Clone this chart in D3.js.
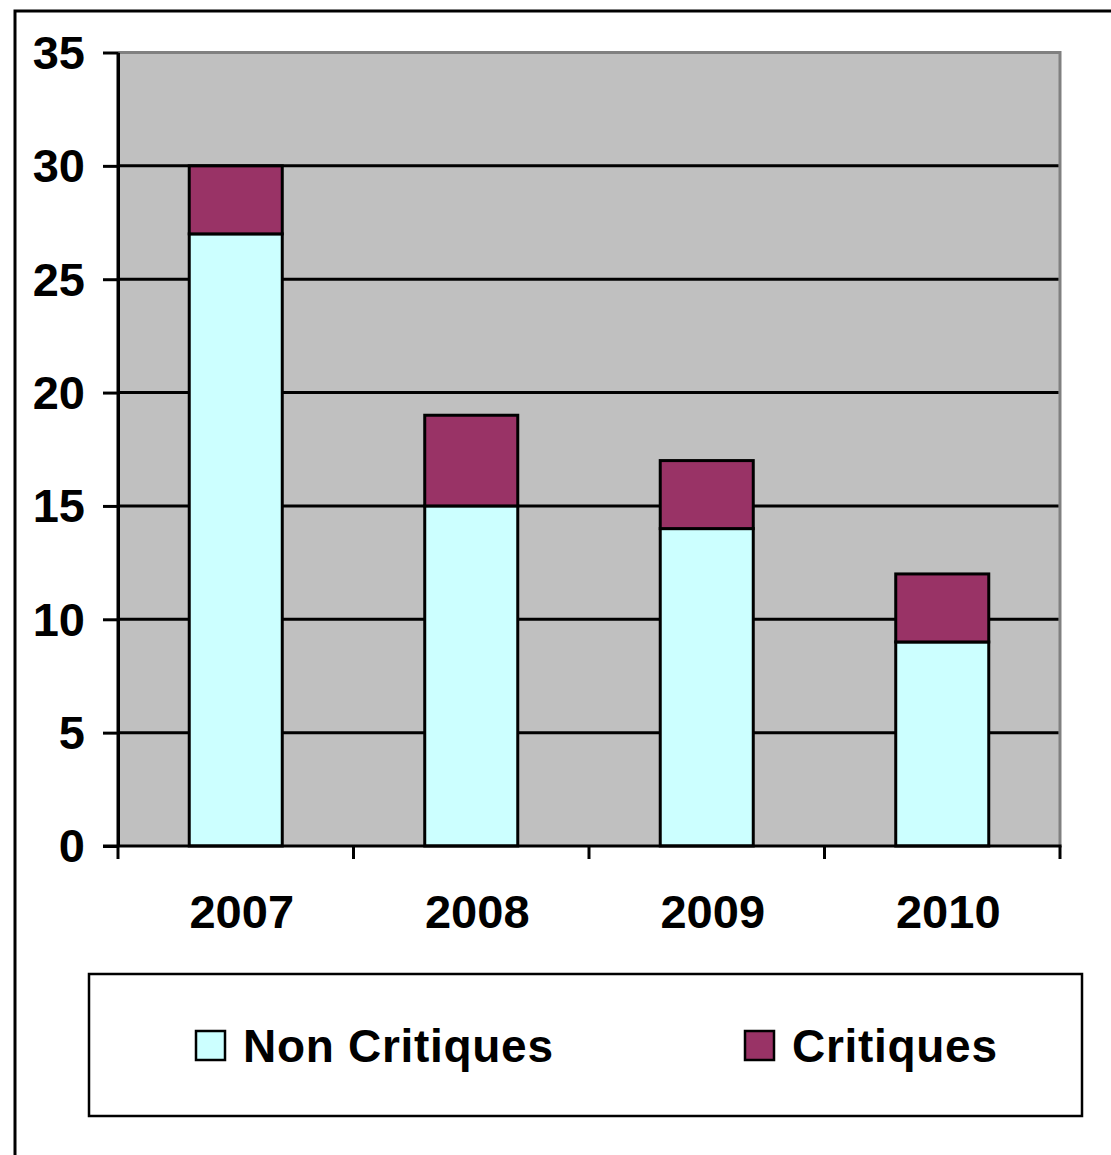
<!DOCTYPE html>
<html>
<head>
<meta charset="utf-8">
<script src="https://cdn.jsdelivr.net/npm/d3@7"></script>
<style>
  html, body { margin: 0; padding: 0; background: #ffffff; }
  svg { display: block; }
  text { font-family: "Liberation Sans", Arial, sans-serif; font-weight: bold; fill: #000; }
</style>
</head>
<body>
<svg id="chart" width="1111" height="1155"></svg>
<script>
// Incident counts per year, split into non-critical and critical
const years = ["2007", "2008", "2009", "2010"];
const nonCritiques = [27, 15, 14, 9];
const critiques = [3, 4, 3, 3];
const seriesNames = ["Non Critiques", "Critiques"];
const seriesColors = ["#CCFFFF", "#993366"];
const yTicks = [0, 5, 10, 15, 20, 25, 30, 35];

const svg = d3.select("#chart");

// Outer frame (runs past the right and bottom edges)
svg.append("rect")
  .attr("x", 15).attr("y", 11)
  .attr("width", 1200).attr("height", 1300)
  .attr("fill", "none").attr("stroke", "#000").attr("stroke-width", 3);

const plot = { left: 118, right: 1060, top: 52.5, bottom: 846 };

const x = d3.scaleBand()
  .domain(years)
  .range([plot.left, plot.right])
  .paddingInner(0.605)
  .paddingOuter(0.3025);

const y = d3.scaleLinear()
  .domain([0, 35])
  .range([plot.bottom, plot.top]);

// Plot background
svg.append("rect")
  .attr("x", plot.left).attr("y", plot.top)
  .attr("width", plot.right - plot.left).attr("height", plot.bottom - plot.top)
  .attr("fill", "#C0C0C0");

// Gray top and right borders of the plot area
svg.append("path")
  .attr("d", `M${plot.left},${plot.top}H${plot.right}V${plot.bottom}`)
  .attr("fill", "none").attr("stroke", "#808080").attr("stroke-width", 3);

// Horizontal gridlines
svg.append("g")
  .selectAll("line")
  .data(yTicks.filter(t => t > 0 && t < 35))
  .join("line")
  .attr("x1", plot.left).attr("x2", plot.right - 1.5)
  .attr("y1", d => y(d)).attr("y2", d => y(d))
  .attr("stroke", "#000").attr("stroke-width", 3);

// Stacked data
const stackData = years.map((yr, i) => ({ year: yr, "Non Critiques": nonCritiques[i], "Critiques": critiques[i] }));
const stacked = d3.stack().keys(seriesNames)(stackData);

svg.append("g")
  .selectAll("g")
  .data(stacked)
  .join("g")
  .attr("fill", (d, i) => seriesColors[i])
  .selectAll("rect")
  .data(d => d)
  .join("rect")
  .attr("x", d => x(d.data.year))
  .attr("width", x.bandwidth())
  .attr("y", d => y(d[1]))
  .attr("height", d => y(d[0]) - y(d[1]))
  .attr("stroke", "#000").attr("stroke-width", 3);

// Y axis
const yAxis = svg.append("g")
  .attr("transform", `translate(${plot.left},0)`)
  .call(d3.axisLeft(y).tickValues(yTicks).tickSize(15).tickPadding(18).tickSizeOuter(0));
yAxis.select(".domain").attr("stroke", "#000").attr("stroke-width", 3);
yAxis.selectAll(".tick line").attr("stroke", "#000").attr("stroke-width", 3);
yAxis.selectAll(".tick text")
  .attr("font-size", 47)
  .attr("font-family", "Liberation Sans, Arial, sans-serif")
  .attr("font-weight", "bold")
  .attr("dy", "0.34em");

// X axis: ticks at band boundaries
const xBounds = [plot.left].concat(years.map((yr) => x(yr) + x.bandwidth() + x.step() * x.paddingInner() / 2));
xBounds[xBounds.length - 1] = plot.right;
const xg = svg.append("g");
xg.append("line")
  .attr("x1", plot.left - 15).attr("x2", plot.right + 1.5)
  .attr("y1", plot.bottom).attr("y2", plot.bottom)
  .attr("stroke", "#000").attr("stroke-width", 3);
xg.append("line")
  .attr("x1", plot.left).attr("x2", plot.left)
  .attr("y1", plot.top).attr("y2", plot.bottom)
  .attr("stroke", "#000").attr("stroke-width", 3);
xg.selectAll("line.tick")
  .data(xBounds)
  .join("line")
  .attr("class", "tick")
  .attr("x1", d => d).attr("x2", d => d)
  .attr("y1", plot.bottom).attr("y2", plot.bottom + 13)
  .attr("stroke", "#000").attr("stroke-width", 3);
xg.selectAll("text")
  .data(years)
  .join("text")
  .attr("x", d => x(d) + x.bandwidth() / 2 + 6)
  .attr("y", 928)
  .attr("text-anchor", "middle")
  .attr("font-size", 47)
  .text(d => d);

// Legend
const legend = svg.append("g");
legend.append("rect")
  .attr("x", 89).attr("y", 974)
  .attr("width", 993).attr("height", 142)
  .attr("fill", "#fff").attr("stroke", "#000").attr("stroke-width", 2.5);

const legendX = [196, 745];
const items = legend.selectAll("g.item")
  .data(seriesNames)
  .join("g")
  .attr("class", "item")
  .attr("transform", (d, i) => `translate(${legendX[i]},0)`);
items.append("rect")
  .attr("x", 0).attr("y", 1031)
  .attr("width", 29).attr("height", 29)
  .attr("fill", (d, i) => seriesColors[i])
  .attr("stroke", "#000").attr("stroke-width", 2.5);
items.append("text")
  .attr("x", 47).attr("y", 1062)
  .attr("font-size", 46)
  .attr("letter-spacing", 0.7)
  .text(d => d);
</script>
</body>
</html>
